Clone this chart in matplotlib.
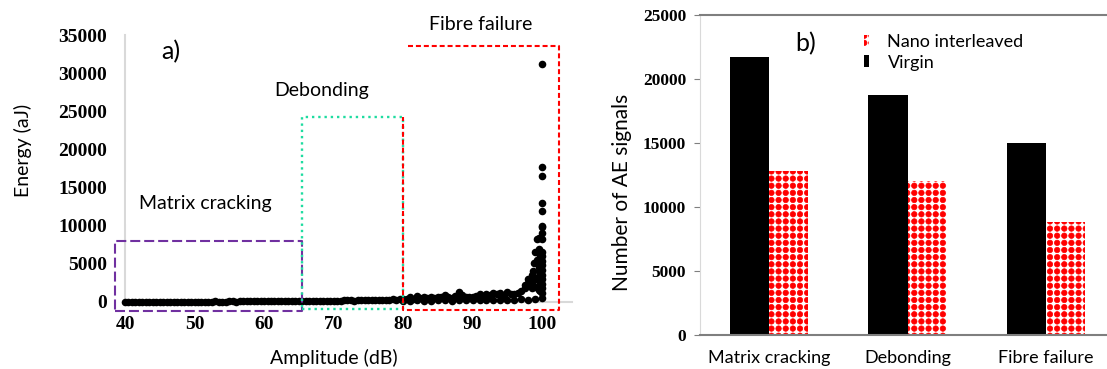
import numpy as np
import matplotlib
matplotlib.use('Agg')
import matplotlib.pyplot as plt
import matplotlib.hatch as mhatch

# ---- panel a: energy vs amplitude ----
amp_grid = np.arange(40, 100.5, 0.5)
energy_grid = [30, 25, 40, 35, 30, 45, 40, 35, 50, 40, 45, 35, 50, 40, 55, 45, 50, 40, 55, 50,
               55, 60, 50, 65, 55, 60, 70, 55, 65, 60, 70, 75, 65, 70, 80, 70, 75, 85, 80, 90,
               85, 90, 95, 100, 90, 105, 110, 100, 115, 120,
               110, 130, 120, 140, 150, 130, 160, 150, 170, 160,
               180, 170, 190, 210, 200, 230, 190, 250, 220, 260, 240, 280, 230, 300, 270, 320, 260, 350, 300, 330,
               380, 420, 650, 450, 850, 500, 700, 550, 600, 480, 620, 700, 900, 650, 560, 800, 1250, 900, 700, 650,
               600, 750, 1000, 800, 1100, 900, 1150, 1000, 1200, 950, 1250, 1100, 1000, 1200,
               1400, 1800, 2500, 3500, 6500, 5200, 9800]

amp_low = list(range(80, 101))
energy_low = [150, 120, 200, 180, 150, 220, 200, 180, 250, 200, 220,
              250, 200, 280, 250, 300, 280, 350, 300, 400, 500]

amp_peak = [97.5, 98, 98.5, 98.5, 98.7, 98.8, 99, 99, 99.2, 99.3, 99.5, 99.5, 99.5, 99.5, 99.5, 99.5,
            99.6, 99.7, 99.7, 99.7, 100, 100, 100, 100, 100, 100, 100, 100, 100, 100, 100, 100,
            100, 100, 100, 100, 100, 100]
energy_peak = [2200, 3000, 2600, 1800, 4000, 5100, 3200, 2000, 8300, 5500, 8400, 4600, 4000, 3400, 2800, 1600,
               7000, 6000, 2200, 1400, 31200, 17700, 16500, 13000, 11900, 9900, 9000, 8200, 6600, 6000, 5400,
               4800, 4200, 3600, 3000, 2400, 1800, 1200]

# region limits: dB range, energy range
matrix_box = [38.6, 65.4, -1180, 8000]
debond_box = [65.4, 80.0, -920, 24300]
fibre_box = [80.0, 102.4, -1050, 33500]

# ---- panel b: AE signal counts ----
modes = ['Matrix cracking', 'Debonding', 'Fibre failure']
virgin = [21750, 18750, 15000]
nano = [12850, 12000, 8850]


# square grid of filled dots, used for the nano bars
class DotGrid(mhatch.Circles):
    size = 0.38
    filled = True

    def __init__(self, hatch, density):
        self.num_rows = 14 if '.' in hatch else 0
        super().__init__(hatch, density)
        self.num_shapes = (self.num_rows + 1) ** 2 if self.num_rows else 0
        self.num_vertices = self.num_shapes * len(self.shape_vertices)

    def set_vertices_and_codes(self, vertices, codes):
        step = 1.0 / self.num_rows
        shape = self.shape_vertices * step * self.size
        pos = np.linspace(0, 1, self.num_rows + 1)
        parts = [shape + [cx, cy] for cy in pos for cx in pos]
        vertices[:] = np.concatenate(parts)
        codes[:] = np.tile(self.shape_codes, self.num_shapes)


mhatch._hatch_types[mhatch._hatch_types.index(mhatch.SmallFilledCircles)] = DotGrid
plt.rcParams['hatch.linewidth'] = 0.5

sans = ['Lato', 'DejaVu Sans']
serif = 'Liberation Serif'

W, H = 1107, 369
fig = plt.figure(figsize=(W / 100, H / 100), dpi=100)

# ---------- left panel ----------
ax = fig.add_axes([125 / W, (H - 302) / H, 447 / W, 267 / H])
ax.set_xlim(40, 104.3)
ax.set_ylim(0, 35000)

ax.scatter(amp_grid, energy_grid, s=30, c='black', clip_on=False, zorder=3, linewidths=0)
ax.scatter(amp_low, energy_low, s=30, c='black', clip_on=False, zorder=3, linewidths=0)
ax.scatter(amp_peak, energy_peak, s=30, c='black', clip_on=False, zorder=3, linewidths=0)

x0, x1, y0, y1 = matrix_box
ax.plot([x0, x1, x1, x0, x0], [y0, y0, y1, y1, y0], color='#7030A0', lw=1.5,
        dashes=(4.8, 1.9), clip_on=False, zorder=4)
x0, x1, y0, y1 = debond_box
ax.plot([x0, x1, x1, x0, x0], [y0, y0, y1, y1, y0], color='#1EDCA0', lw=1.7,
        ls=':', clip_on=False, zorder=4)
x0, x1, y0, y1 = fibre_box
ax.plot([x0 + 0.7, x1, x1, x0, x0], [y1, y1, y0, y0, debond_box[3]], color='#FF0000', lw=1.5,
        dashes=(2.4, 1.4), clip_on=False, zorder=4)

ax.set_xticks([40, 50, 60, 70, 80, 90, 100])
ax.set_yticks(range(0, 35001, 5000))
ax.tick_params(length=0, labelsize=14)
ax.tick_params(axis='x', pad=10)
ax.tick_params(axis='y', pad=13)
for lab in ax.get_xticklabels() + ax.get_yticklabels():
    lab.set_fontfamily(serif)
    lab.set_fontweight('bold')

for side in ['top', 'right']:
    ax.spines[side].set_visible(False)
for side in ['left', 'bottom']:
    ax.spines[side].set_color('#d9d9d9')
    ax.spines[side].set_linewidth(1.5)

ax.set_xlabel('Amplitude (dB)', family=sans, fontsize=14, va='center')
ax.xaxis.set_label_coords(0.4676, -0.21)
ax.set_ylabel('Energy (aJ)', family=sans, fontsize=14, va='center')
ax.yaxis.set_label_coords(-0.228, 0.569)

ax.text(46.6, 32770, 'a)', family=sans, fontsize=18, ha='center', va='center')
ax.text(91.2, 36440, 'Fibre failure', family=sans, fontsize=14, ha='center', va='center')
ax.text(68.3, 27790, 'Debonding', family=sans, fontsize=14, ha='center', va='center')
ax.text(51.5, 12975, 'Matrix cracking', family=sans, fontsize=14, ha='center', va='center',
        bbox=dict(facecolor='white', edgecolor='none', pad=9), zorder=3)

# ---------- right panel ----------
ax2 = fig.add_axes([700 / W, (H - 335) / H, 415 / W, 320 / H])
pos = np.arange(len(modes))
bw = 0.282
b_v = ax2.bar(pos - bw / 2, virgin, bw, color='black', label='Virgin')
b_n = ax2.bar(pos + bw / 2, nano, bw, facecolor='white', edgecolor='red', linewidth=0,
              hatch='.', label='Nano interleaved')
ax2.set_xlim(-0.5, 2.5)
ax2.set_ylim(0, 25000)
ax2.set_yticks(range(0, 25001, 5000))
ax2.set_xticks(pos)
ax2.set_xticklabels(modes, family=sans, fontsize=13)
ax2.tick_params(axis='x', length=0, pad=11)
ax2.tick_params(axis='y', length=4, color='#7f7f7f', pad=6, labelsize=12.5)
for lab in ax2.get_yticklabels():
    lab.set_fontfamily(serif)
    lab.set_fontweight('bold')

ax2.spines['right'].set_visible(False)
for side in ['top', 'bottom']:
    ax2.spines[side].set_color('#7f7f7f')
    ax2.spines[side].set_linewidth(1.5)
ax2.spines['left'].set_color('#d9d9d9')

ax2.set_ylabel('Number of AE signals', family=sans, fontsize=15, va='center')
ax2.yaxis.set_label_coords(-0.188, 0.447)
ax2.text(0.267, 22734, 'b)', family=sans, fontsize=18, ha='center', va='center')

fig.legend([b_n, b_v], ['Nano interleaved', 'Virgin'], loc='upper left',
           bbox_to_anchor=(864 / W, 1 - 34 / H), frameon=False, borderpad=0,
           borderaxespad=0, handlelength=0.3, handleheight=0.6, handletextpad=1.0,
           labelspacing=0.25, prop={'family': sans, 'size': 13})

fig.savefig('out.png', dpi=100)
